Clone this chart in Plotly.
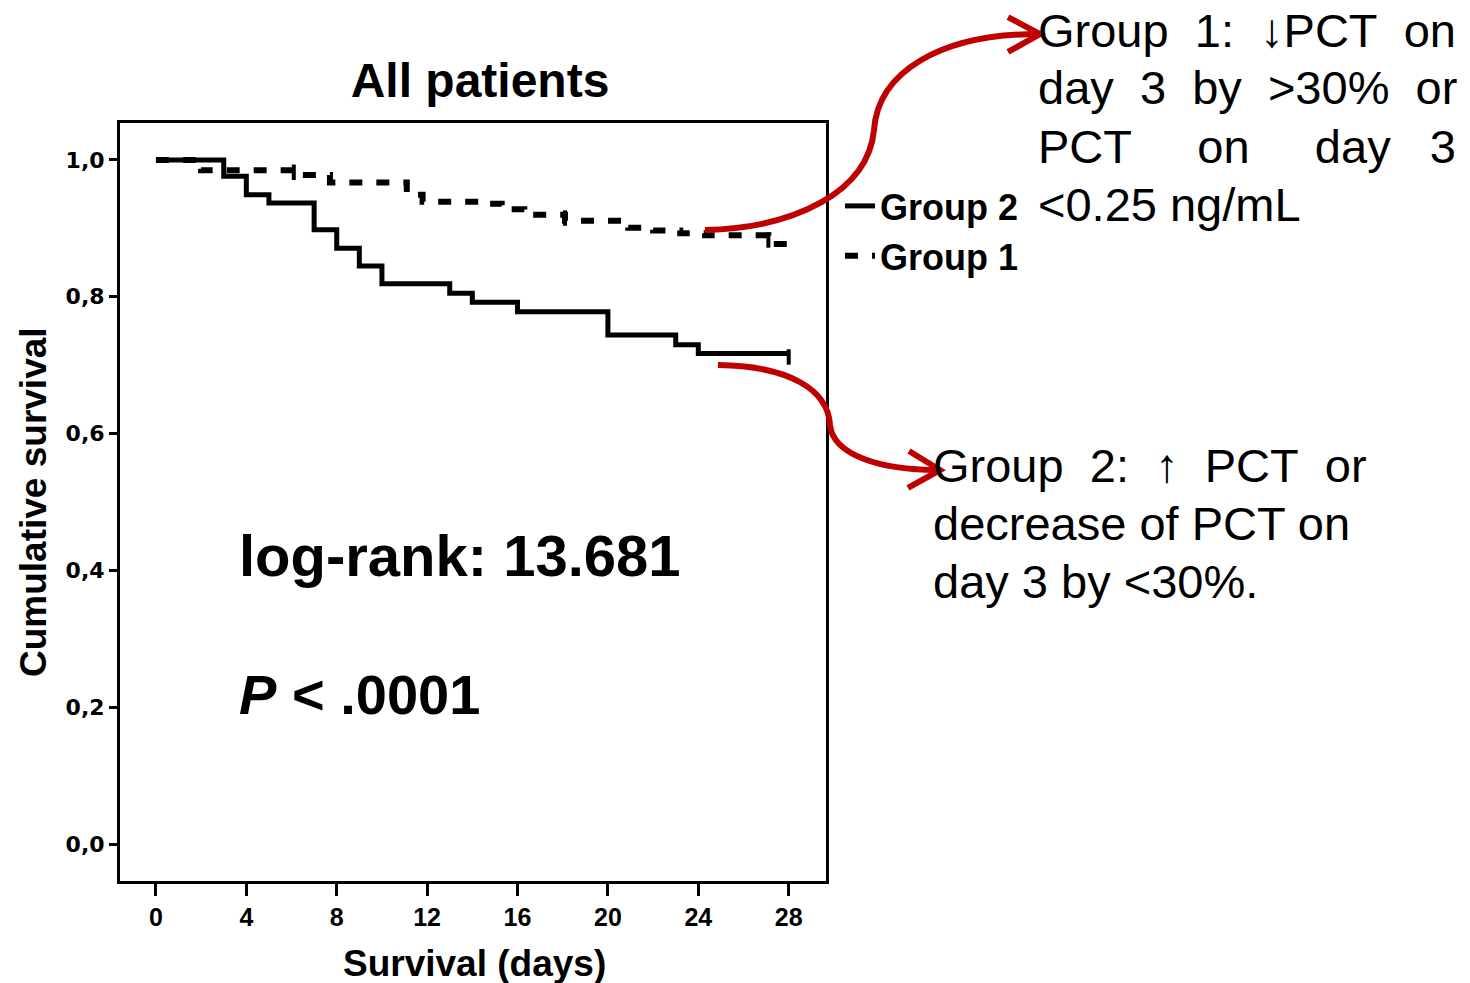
import plotly.graph_objects as go

# Kaplan-Meier steps (day, cumulative survival)
group2_days = [0, 3, 4, 5, 7, 8, 9, 10, 13, 14, 16, 20, 23, 24, 28]
group2_surv = [1.0, 0.976, 0.949, 0.937, 0.898, 0.871, 0.845, 0.819, 0.805, 0.792, 0.778, 0.744, 0.730, 0.717, 0.717]

group1_days = [0, 2, 6.1, 7.7, 11.1, 11.8, 14.3, 15.3, 16.3, 18.1, 20.9, 22.0, 23.2, 24.3, 27.1, 28]
group1_surv = [1.0, 0.985, 0.978, 0.967, 0.949, 0.939, 0.936, 0.928, 0.920, 0.911, 0.901, 0.897, 0.893, 0.890, 0.877, 0.877]

# censored cases (small vertical ticks)
group1_censor_days = [6.1, 18.1, 27.1]
group1_censor_surv = [0.982, 0.915, 0.883]
group2_censor_days = [28]
group2_censor_surv = [0.712]

xtick_vals = [0, 4, 8, 12, 16, 20, 24, 28]
ytick_vals = [0.0, 0.2, 0.4, 0.6, 0.8, 1.0]
ytick_text = ['0,0', '0,2', '0,4', '0,6', '0,8', '1,0']

NB = '\u00a0'
group1_note = ['Group' + NB + ' 1:' + NB + ' \u2193PCT' + NB + ' on',
               'day' + NB + ' 3' + NB + ' by' + NB + ' >30%' + NB + ' or',
               'PCT' + NB * 4 + ' on' + NB * 4 + ' day' + NB * 2 + ' 3',
               '<0.25 ng/mL']
group2_note = ['Group' + NB + ' 2:' + NB + ' \u2191' + NB + ' PCT' + NB + ' or',
               'decrease of PCT on',
               'day 3 by <30%.']

FONT = 'Liberation Sans, Arial, sans-serif'
RED = '#C00000'

# page body has an 8px margin, so the figure is laid out 8px smaller on each side
OFF = 8
W, H = 1470 - 2 * OFF, 983 - OFF
ML, MT = 120 - OFF, 123 - OFF
MR, MB = W - (826 - OFF), H - (881 - OFF)
PW, PH = W - ML - MR, H - MT - MB


def paper(px, py):
    # reference-picture pixels -> paper fractions
    return (px - OFF - ML) / PW, (H - MB - (py - OFF)) / PH


def path_from(points, curve=True):
    pts = [paper(x, y) for x, y in points]
    s = 'M %.4f,%.4f' % pts[0]
    if curve:
        for i in range(1, len(pts), 3):
            s += ' C %.4f,%.4f %.4f,%.4f %.4f,%.4f' % (pts[i] + pts[i + 1] + pts[i + 2])
    else:
        for p in pts[1:]:
            s += ' L %.4f,%.4f' % p
    return s


fig = go.Figure()

fig.add_trace(go.Scatter(x=group2_days, y=group2_surv, mode='lines', line_shape='hv',
                         line=dict(color='black', width=5), name='Group 2'))
fig.add_trace(go.Scatter(x=group1_days, y=group1_surv, mode='lines', line_shape='hv',
                         line=dict(color='black', width=6, dash='13px,14px'), name='Group 1'))
fig.add_trace(go.Scatter(x=group1_censor_days + group2_censor_days,
                         y=group1_censor_surv + group2_censor_surv, mode='markers',
                         marker=dict(symbol='line-ns-open', size=11, color='black',
                                     line=dict(color='black', width=4)),
                         showlegend=False, hoverinfo='skip'))

fig.update_layout(
    width=W, height=H,
    margin=dict(l=ML, r=MR, t=MT, b=MB),
    paper_bgcolor='white', plot_bgcolor='white',
    font=dict(family=FONT, color='black'),
    title=dict(text='All patients', xref='paper', x=paper(480, 0)[0], xanchor='center',
               yref='container', y=1 - (80 - OFF) / H, yanchor='middle',
               font=dict(size=48, weight='bold', family=FONT)),
    showlegend=True,
    legend=dict(x=paper(840, 0)[0], y=paper(0, 176)[1], xanchor='left', yanchor='top',
                bgcolor='rgba(0,0,0,0)', itemwidth=30, tracegroupgap=0,
                font=dict(size=36, weight='bold', family=FONT)),
)

fig.update_xaxes(range=[-1.59, 29.65], tickvals=xtick_vals, showgrid=False, zeroline=False,
                 showline=True, linecolor='black', linewidth=3, mirror=True,
                 ticks='outside', ticklen=12, tickwidth=3, tickcolor='black',
                 tickfont=dict(size=25, weight='bold', family=FONT))
fig.update_yaxes(range=[-0.054, 1.054], tickvals=ytick_vals, ticktext=ytick_text,
                 showgrid=False, zeroline=False,
                 showline=True, linecolor='black', linewidth=3, mirror=True,
                 ticks='outside', ticklen=8, tickwidth=3, tickcolor='black',
                 tickfont=dict(size=22, weight='bold', family='DejaVu Sans, sans-serif'))

# axis titles and statistics text
fig.add_annotation(text='Survival (days)', xref='paper', yref='paper',
                   x=paper(474, 0)[0], y=paper(0, 963)[1], showarrow=False,
                   xanchor='center', yanchor='middle',
                   font=dict(size=37, weight='bold', family=FONT))
fig.add_annotation(text='Cumulative survival', xref='paper', yref='paper',
                   x=paper(33, 0)[0], y=paper(0, 502)[1], showarrow=False, textangle=-90,
                   xanchor='center', yanchor='middle',
                   font=dict(size=37, weight='bold', family=FONT))
fig.add_annotation(text='log-rank: 13.681', x=3.6, y=0.422, showarrow=False,
                   xanchor='left', yanchor='middle',
                   font=dict(size=58, weight='bold', family=FONT))
fig.add_annotation(text='<i>P</i> < .0001', x=3.6, y=0.218, showarrow=False,
                   xanchor='left', yanchor='middle',
                   font=dict(size=56, weight='bold', family=FONT))

# explanatory notes on the right
for i, line in enumerate(group1_note):
    fig.add_annotation(text=line, xref='paper', yref='paper',
                       x=paper(1036, 0)[0], y=paper(0, 30 + 58 * i)[1], showarrow=False,
                       xanchor='left', yanchor='middle', font=dict(size=47, family=FONT))
for i, line in enumerate(group2_note):
    fig.add_annotation(text=line, xref='paper', yref='paper',
                       x=paper(931, 0)[0], y=paper(0, 465 + 58 * i)[1], showarrow=False,
                       xanchor='left', yanchor='middle', font=dict(size=47, family=FONT))

# red curved arrows
arrow1 = [(705, 230), (795, 228), (868, 192), (874, 130), (878, 72), (940, 34), (1038, 34)]
head1 = [(1008, 17), (1040, 34), (1008, 52)]
arrow2 = [(718, 365), (790, 366), (828, 390), (830, 425), (833, 455), (880, 470), (938, 470)]
head2 = [(909, 451), (940, 470), (908, 488)]
for pts, curve in [(arrow1, True), (head1, False), (arrow2, True), (head2, False)]:
    fig.add_shape(type='path', xref='paper', yref='paper', path=path_from(pts, curve),
                  line=dict(color=RED, width=6), layer='above')

fig.write_html('out.html')
